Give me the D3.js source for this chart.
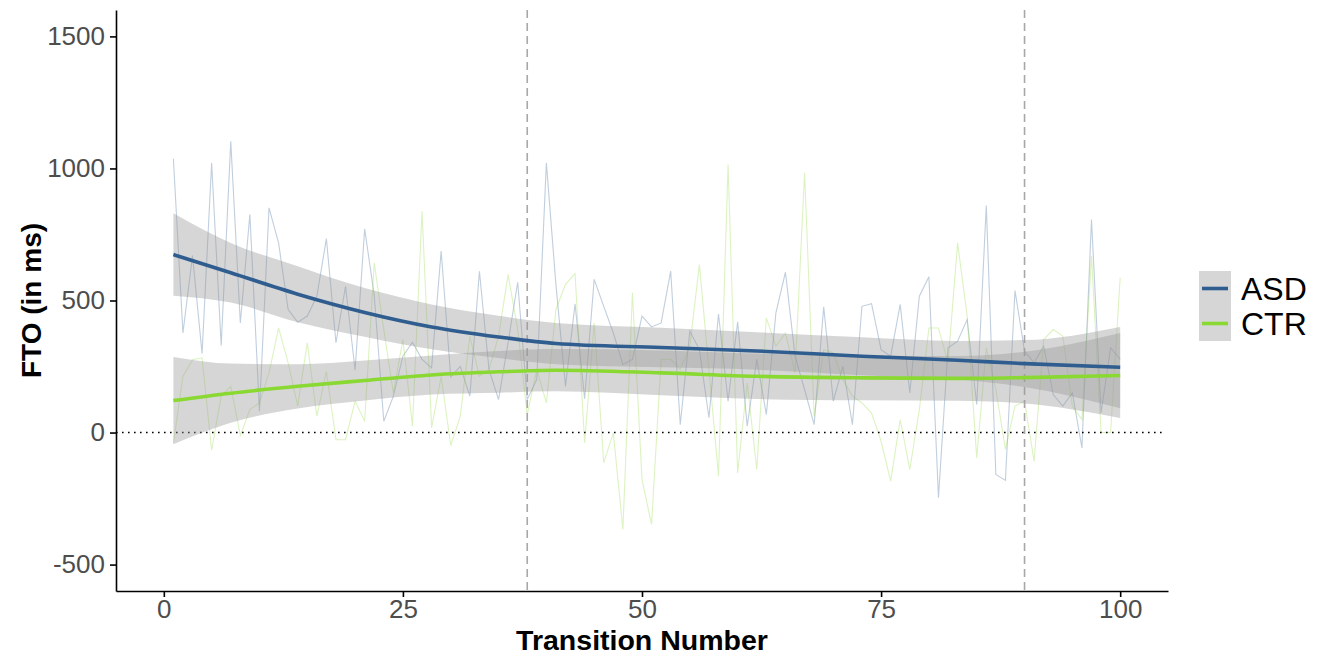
<!DOCTYPE html>
<html>
<head>
<meta charset="utf-8">
<script src="https://cdn.jsdelivr.net/npm/d3@7"></script>
<style>
	body { margin: 0; background: #fff; }
	svg { display: block; font-family: "Liberation Sans", Arial, sans-serif; }
	.axis path, .axis line { stroke: #000; }
	.axis text { fill: #4d4d4d; font-size: 26px; }
</style>
</head>
<body>
<div class="fto-chart"></div>
<script>
	// raw FTO per transition
	const transitions = d3.range(1, 101);
	const asdRaw = [1037, 377, 670, 299, 1021, 330, 1103, 415, 826, 81,
		851, 718, 466, 418, 441, 516, 734, 340, 554, 236,
		771, 520, 43, 138, 289, 342, 277, 245, 687, 211,
		251, 138, 611, 239, 125, 340, 569, 125, 201, 1021,
		560, 175, 487, 128, 580, 478, 377, 258, 277, 441,
		400, 415, 611, 30, 384, 314, 56, 449, 119, 419,
		24, 277, 68, 453, 607, 289, 163, 30, 476, 119,
		251, 30, 478, 488, 314, 289, 485, 150, 516, 590,
		-247, 321, 346, 428, 106, 860, -159, -181, 538, 308,
		264, 327, 144, 100, 150, -58, 807, 74, 321, 277];
	const ctrRaw = [-40, 213, 276, 283, -67, 138, 175, -11, 87, 112,
		226, 396, 264, 100, 340, 62, 232, -27, -27, 119,
		43, 643, 390, 150, 352, 24, 838, 18, 213, -49,
		62, 365, 213, 239, 365, 598, 390, 68, 239, 112,
		466, 561, 602, -39, 415, -115, -1, -367, 529, -178,
		-348, 277, 277, 239, 327, 636, 239, -165, 1015, -153,
		188, -140, 434, 327, 377, 226, 984, 62, 314, 302,
		200, 138, 112, 74, -33, -184, 49, -140, 87, 396,
		396, 264, 718, 441, -96, 321, 163, -64, 100, 119,
		-109, 352, 390, 365, 100, 49, 668, 0, 0, 586];

	// loess fit and confidence band, sampled along x
	const smoothX = [1, 7, 14, 21, 28, 35, 41, 52, 62, 73, 83, 90, 100];
	const asdFit = [674, 605, 524, 455, 400, 362, 337, 322, 309, 289, 274, 261, 247];
	const asdHigh = [830, 718, 630, 547, 485, 442, 415, 397, 380, 361, 347, 350, 400];
	const asdLow = [518, 492, 418, 363, 315, 282, 259, 247, 238, 217, 201, 172, 92];
	const ctrFit = [121, 149, 175, 197, 218, 230, 236, 226, 213, 207, 205, 208, 216];
	const ctrHigh = [286, 261, 259, 273, 292, 309, 316, 311, 299, 292, 290, 306, 377];
	const ctrLow = [-44, 37, 91, 121, 144, 151, 156, 141, 127, 122, 120, 110, 55];

	const xTicks = [0, 25, 50, 75, 100];
	const yTicks = [-500, 0, 500, 1000, 1500];
	const phaseLines = [38, 90];

	const groups = [
		{name: "ASD", color: "#2f5d8f", raw: asdRaw, fit: asdFit, high: asdHigh, low: asdLow},
		{name: "CTR", color: "#8ad832", raw: ctrRaw, fit: ctrFit, high: ctrHigh, low: ctrLow}
	];

	const W = 1334, H = 655;
	const margin = {top: 10, right: 166, bottom: 64, left: 116},
		width = W - margin.left - margin.right,
		height = H - margin.top - margin.bottom;

	const x = d3.scaleLinear().domain([-5, 105]).range([0, width]);
	const y = d3.scaleLinear().domain([-600, 1600]).range([height, 0]);

	const svg = d3.select(".fto-chart").append("svg")
		.attr("width", W)
		.attr("height", H);

	const g = svg.append("g")
		.attr("transform", "translate(" + margin.left + "," + margin.top + ")");

	// raw series
	const rawLine = d3.line()
		.x((d, i) => x(transitions[i]))
		.y(d => y(d));

	groups.forEach(grp => {
		g.append("path")
			.attr("d", rawLine(grp.raw))
			.attr("fill", "none")
			.attr("stroke", grp.color)
			.attr("stroke-opacity", 0.3)
			.attr("stroke-width", 1.1);
	});

	// reference lines
	g.append("line")
		.attr("x1", 0).attr("x2", width - 3)
		.attr("y1", y(0)).attr("y2", y(0))
		.attr("stroke", "#000")
		.attr("stroke-width", 1.6)
		.attr("stroke-dasharray", "1.6,4.4");

	g.selectAll(".phase")
		.data(phaseLines)
		.enter().append("line")
		.attr("class", "phase")
		.attr("x1", d => x(d)).attr("x2", d => x(d))
		.attr("y1", 0).attr("y2", height)
		.attr("stroke", "#a8a8a8")
		.attr("stroke-width", 1.6)
		.attr("stroke-dasharray", "8,5");

	// confidence ribbons
	const band = d3.area()
		.x((d, i) => x(smoothX[i]))
		.y0(d => y(d[0]))
		.y1(d => y(d[1]))
		.curve(d3.curveMonotoneX);

	groups.forEach(grp => {
		g.append("path")
			.attr("d", band(grp.low.map((v, i) => [v, grp.high[i]])))
			.attr("fill", "#999999")
			.attr("fill-opacity", 0.4);
	});

	const fitLine = d3.line()
		.x((d, i) => x(smoothX[i]))
		.y(d => y(d))
		.curve(d3.curveMonotoneX);

	groups.forEach(grp => {
		g.append("path")
			.attr("d", fitLine(grp.fit))
			.attr("fill", "none")
			.attr("stroke", grp.color)
			.attr("stroke-width", 3.6);
	});

	// axes
	const xAxis = g.append("g")
		.attr("class", "x axis")
		.attr("transform", "translate(0," + height + ")")
		.call(d3.axisBottom(x).tickValues(xTicks).tickFormat(d => d)
			.tickSize(6).tickSizeOuter(0).tickPadding(3));

	const yAxis = g.append("g")
		.attr("class", "y axis")
		.call(d3.axisLeft(y).tickValues(yTicks).tickFormat(d => d)
			.tickSize(6).tickSizeOuter(0).tickPadding(5));

	[xAxis, yAxis].forEach(ax => {
		ax.select(".domain").attr("stroke-width", 1.6);
		ax.selectAll(".tick line").attr("stroke", "#333").attr("stroke-width", 1.6);
	});

	svg.append("text")
		.attr("x", margin.left + width / 2)
		.attr("y", 650)
		.style("text-anchor", "middle")
		.style("font-size", "28.5px")
		.style("font-weight", "bold")
		.text("Transition Number");

	svg.append("text")
		.attr("transform", "translate(41," + (margin.top + height / 2) + ") rotate(-90)")
		.style("text-anchor", "middle")
		.style("font-size", "28px")
		.style("font-weight", "bold")
		.text("FTO (in ms)");

	// legend
	const legend = svg.selectAll(".legendRow")
		.data(groups)
		.enter().append("g")
		.attr("class", "legendRow")
		.attr("transform", (d, i) => "translate(1199," + (271 + i * 35) + ")");

	legend.append("rect")
		.attr("width", 32)
		.attr("height", 35)
		.attr("fill", "#d6d6d6");

	legend.append("line")
		.attr("x1", 3).attr("x2", 29)
		.attr("y1", 17.5).attr("y2", 17.5)
		.attr("stroke", d => d.color)
		.attr("stroke-width", 3.6);

	legend.append("text")
		.attr("x", 42)
		.attr("y", 17.5)
		.attr("dy", ".35em")
		.style("font-size", "32px")
		.text(d => d.name);
</script>
</body>
</html>
